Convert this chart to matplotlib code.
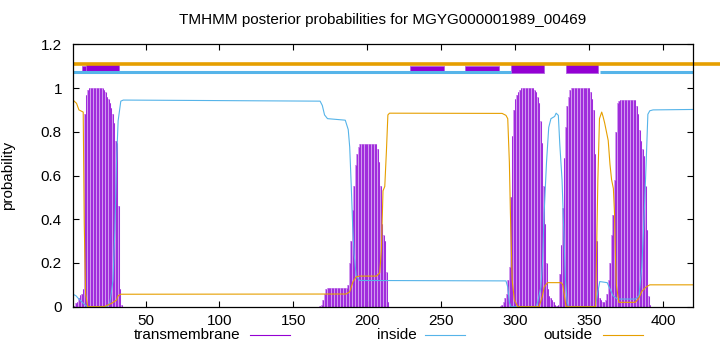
import matplotlib
matplotlib.use("Agg")
import matplotlib.pyplot as plt
from matplotlib.lines import Line2D
from matplotlib.patches import Rectangle

plt.rcParams['font.family'] = ['Liberation Sans', 'DejaVu Sans']

# colours (gnuplot default line types)
c_tm = '#9400d3'
c_in = '#56b4e9'
c_out = '#e69f00'

# transmembrane posterior, one value per residue
tm_a_start = 1
tm_a = [0, 0.005, 0.015, 0.02, 0.04, 0.055, 0.06, 0.08, 0.88, 0.97, 0.99,
        1.0, 1.0, 1.0, 1.0, 1.0, 1.0, 1.0, 1.0, 1.0, 1.0,
        0.99, 0.98, 0.96, 0.95, 0.93, 0.91, 0.88, 0.84, 0.76, 0.75, 0.46, 0.08, 0.01]
tm_b_start = 168
tm_b = [0.005, 0.01, 0.03, 0.06, 0.08,
        0.085, 0.085, 0.085, 0.085, 0.085, 0.085, 0.085, 0.085, 0.085, 0.085, 0.085, 0.085, 0.085, 0.085,
        0.10, 0.20, 0.30, 0.44, 0.55, 0.65, 0.70, 0.73,
        0.745, 0.745, 0.745, 0.745, 0.745, 0.745, 0.745, 0.745, 0.745, 0.745, 0.745, 0.745,
        0.72, 0.66, 0.55, 0.38, 0.33, 0.30, 0.16, 0.02]
tm_c_start = 290
tm_c = [0.005, 0.01, 0.02, 0.04, 0.06, 0.12, 0.18, 0.5, 0.78, 0.90, 0.95, 0.97, 0.98, 0.99,
        1.0, 1.0, 1.0, 1.0, 1.0, 1.0, 1.0, 1.0, 1.0,
        0.99, 0.98, 0.96, 0.93, 0.85, 0.75, 0.55, 0.38, 0.20, 0.08, 0.05, 0.04, 0.03, 0.02, 0.01,
        0.005, 0.01, 0.15, 0.28, 0.45, 0.68, 0.82, 0.92, 0.96, 0.99,
        1.0, 1.0, 1.0, 1.0, 1.0, 1.0, 1.0, 1.0, 1.0, 1.0, 1.0, 1.0, 1.0,
        0.98, 0.95, 0.90, 0.70, 0.30, 0.08, 0.04, 0.03, 0.02, 0.02,
        0.03, 0.06, 0.12, 0.2, 0.33, 0.42, 0.58, 0.80, 0.93, 0.94,
        0.945, 0.945, 0.945, 0.945, 0.945, 0.945, 0.945, 0.945, 0.945, 0.945, 0.945,
        0.92, 0.88, 0.81, 0.76, 0.72, 0.69, 0.55, 0.35, 0.05, 0.01]

# inside / outside curves (residue, probability)
inside_x = [1, 3, 5, 8, 10, 11, 24, 26, 28, 29.3, 30.4, 31.5, 33.3, 35, 168, 169.5, 171, 173,
            185, 187, 188, 189, 190, 191, 192.4, 194.7, 293.6, 294.8, 295.9, 297, 314, 315,
            317.2, 318.3, 319.4, 321, 322.5, 324, 326.5, 327.5, 329, 330, 331.5, 332.4, 333.8,
            335, 336, 354, 355.5, 357, 362, 364, 366, 369, 381, 383.5, 385.4, 387, 388.3,
            389.5, 390.8, 393, 420]
inside_y = [0.057, 0.05, 0.035, 0.015, 0.003, 0, 0, 0.02, 0.12, 0.35, 0.66, 0.85, 0.94, 0.945,
            0.94, 0.92, 0.877, 0.86, 0.853, 0.81, 0.73, 0.56, 0.37, 0.24, 0.14, 0.12, 0.118,
            0.09, 0.02, 0, 0, 0.02, 0.09, 0.2, 0.43, 0.66, 0.82, 0.86, 0.87, 0.885, 0.875,
            0.74, 0.58, 0.40, 0.12, 0.02, 0, 0, 0.06, 0.115, 0.11, 0.08, 0.05, 0.035, 0.035,
            0.05, 0.18, 0.42, 0.65, 0.88, 0.896, 0.90, 0.902]
outside_x = [1, 3.4, 5, 7.9, 8.6, 9.5, 11, 22, 27, 30.4, 31.5, 33.3, 185.6, 188, 190.2,
             192.4, 194.7, 206, 208.3, 209.4, 210.5, 211.7, 212.8, 213.8, 214.9, 291,
             293.6, 294.8, 295.9, 296.6, 297.8, 299.3, 301.6, 316, 318.3, 319.4, 321.7,
             330.9, 332, 333.1, 334.2, 354.2, 355.7, 356.8, 358.3, 359.2, 360.3, 362.7,
             363.9, 365, 366.2, 367, 367.5, 368.2, 369.9, 381, 383.5, 385.4, 388.3, 390.8, 420]
outside_y = [0.945, 0.93, 0.90, 0.89, 0.38, 0.06, 0.0, 0, 0.015, 0.03, 0.05, 0.057, 0.058,
             0.068, 0.114, 0.137, 0.14, 0.14, 0.155, 0.26, 0.53, 0.55, 0.71, 0.877, 0.885,
             0.884, 0.875, 0.86, 0.66, 0.43, 0.12, 0.03, 0, 0, 0.05, 0.09, 0.11, 0.11, 0.10,
             0.05, 0, 0, 0.58, 0.86, 0.89, 0.87, 0.84, 0.76, 0.65, 0.58, 0.54, 0.42, 0.25,
             0.1, 0.02, 0.02, 0.04, 0.07, 0.09, 0.10, 0.10]

# predicted topology strip
outside_bar = [(1, 438)]
inside_bar = [(1, 297), (357, 420)]
helix_thick = [(10, 32), (297, 319), (334, 356)]
helix_thin = [(7, 10), (229, 252), (266, 289)]

fig = plt.figure(figsize=(7.2, 3.52), dpi=100)
ax = fig.add_axes([73 / 720, 1 - 306.7 / 352, 620 / 720, 262.4 / 352])

# impulses: light fill with darker strokes, like gnuplot's antialiased impulses
for start, vals in [(tm_a_start, tm_a), (tm_b_start, tm_b), (tm_c_start, tm_c)]:
    xs = list(range(start, start + len(vals)))
    ax.bar(xs, vals, width=1.0, color='#d49ef0', linewidth=0)
    ax.vlines(xs, 0, vals, color='#a02ddc', lw=0.75)

ax.plot(inside_x, inside_y, color=c_in, lw=0.8)
ax.plot(outside_x, outside_y, color=c_out, lw=0.8)

for a, b in outside_bar:
    ax.plot([a, b], [1.111, 1.111], color=c_out, lw=2.6, solid_capstyle='butt', clip_on=False)
for a, b in inside_bar:
    ax.plot([a, b], [1.072, 1.072], color=c_in, lw=2.2, solid_capstyle='butt')
for a, b in helix_thick:
    ax.add_patch(Rectangle((a, 1.067), b - a, 0.047, facecolor=c_tm, edgecolor='#b060e0', lw=0.6))
for a, b in helix_thin:
    ax.add_patch(Rectangle((a, 1.078), b - a, 0.024, facecolor=c_tm, edgecolor='#b060e0', lw=0.6))

ax.set_xlim(1, 420)
ax.set_ylim(0, 1.2)
ax.set_xticks([50, 100, 150, 200, 250, 300, 350, 400])
ax.set_yticks([0, 0.2, 0.4, 0.6, 0.8, 1.0, 1.2])
ax.set_yticklabels(['0', '0.2', '0.4', '0.6', '0.8', '1', '1.2'])
ax.tick_params(direction='in', top=True, right=True, length=4, width=0.8, labelsize=11)
ax.tick_params(axis='x', pad=5)
ax.tick_params(axis='y', pad=8)
for s in ax.spines.values():
    s.set_linewidth(0.9)

ax.set_ylabel('probability', fontsize=11)
ax.yaxis.set_label_coords(-0.094, 0.5)
fig.text(383 / 720, 1 - 20 / 352, 'TMHMM posterior probabilities for MGYG000001989_00469',
         ha='center', va='center', fontsize=11)

# legend row below the axis
legend_y = 1 - 335 / 352
for label, col, txt_end, l0, l1 in [('transmembrane', c_tm, 240, 250, 290),
                                    ('inside', c_in, 417, 425, 465),
                                    ('outside', c_out, 593, 603, 643)]:
    fig.text(txt_end / 720, legend_y, label, ha='right', va='center', fontsize=11)
    fig.add_artist(Line2D([l0 / 720, l1 / 720], [legend_y, legend_y], color=col, lw=0.8))

fig.savefig('out.png', dpi=100)
